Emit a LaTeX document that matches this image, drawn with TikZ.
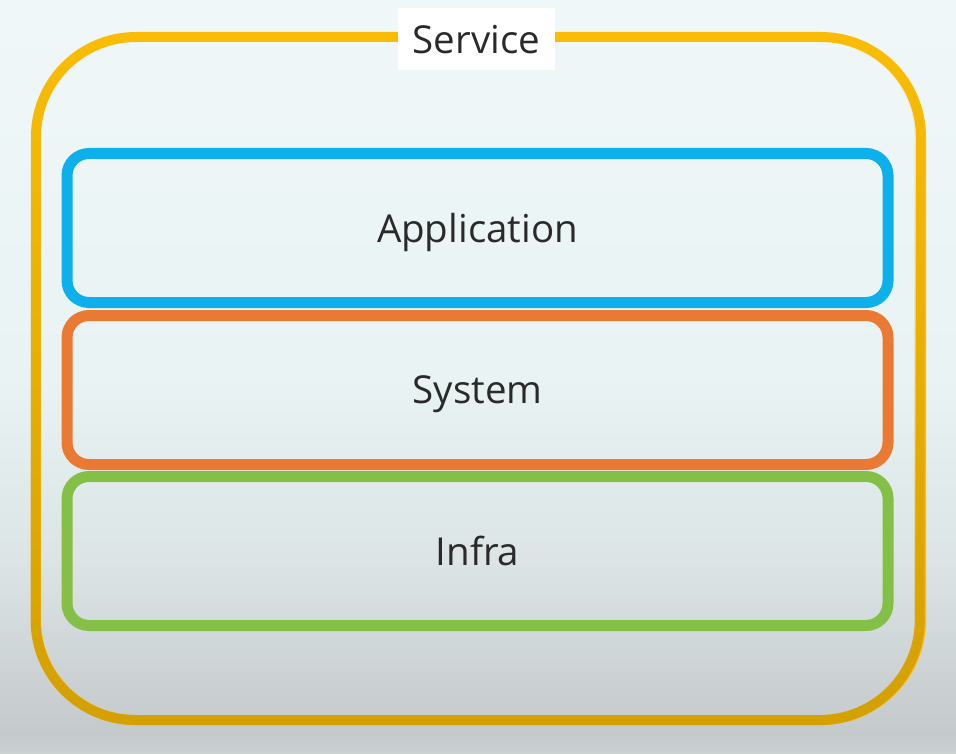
\documentclass[tikz,border=0pt]{standalone}
\usepackage{fontspec}
\usetikzlibrary{fadings}
\newfontfamily\labelfont{Open Sans}
\definecolor{bgtop}{HTML}{F0F7F8}
\definecolor{bgmid}{HTML}{E9F3F4}
\definecolor{bglow}{HTML}{DCE4E5}
\definecolor{bgbot}{HTML}{C4C9CB}
\definecolor{bgedge}{HTML}{CDD1D2}
\definecolor{svcyellow}{HTML}{FBBD05}
\definecolor{svcgold}{HTML}{D4A002}
\definecolor{appblue}{HTML}{0DB0EA}
\definecolor{sysorange}{HTML}{EA7A33}
\definecolor{infragreen}{HTML}{84BF48}
\definecolor{txtgray}{HTML}{2A2A2A}
\pgfdeclareverticalshading{bgshade}{100bp}{color(0bp)=(bgedge); color(25bp)=(bgedge); color(26.25bp)=(bgbot); color(37.85bp)=(bglow); color(49.8bp)=(bgmid); color(75bp)=(bgtop); color(100bp)=(bgtop)}
\tikzset{
  labeltext/.style={font=\labelfont\fontsize{38.5}{46}\selectfont, text=txtgray, text depth=0pt},
  layerbox/.style={draw, line width=11pt, rounded corners=22pt, minimum width=821pt,
    minimum height=149pt, inner sep=0pt, labeltext},
  outerbox/.style={line width=10pt, rounded corners=100pt, minimum width=885pt,
    minimum height=683pt, inner sep=0pt},
  tagbox/.style={fill=white, minimum width=157pt, minimum height=62pt, inner sep=0pt, labeltext}
}
\begin{document}
\begin{tikzpicture}[x=1pt,y=-1pt]
  \useasboundingbox (0,0) rectangle (956,754);
  \shade[shading=bgshade] (0,0) rectangle (956,754);
  \node[outerbox, draw=svcyellow] (service) at (478.5,378.5) {};
  \node[outerbox, draw=svcgold, path fading=north] (serviceshade) at (478.5,378.5) {};
  \node[tagbox] (servicetag) at (476.5,39) {Service};
  \node[layerbox, draw=appblue] (app) at (477.5,228) {Application};
  \node[layerbox, draw=sysorange] (sys) at (477.5,390) {System};
  \node[layerbox, draw=infragreen] (infra) at (477.5,551) {Infra};
\end{tikzpicture}
\end{document}
